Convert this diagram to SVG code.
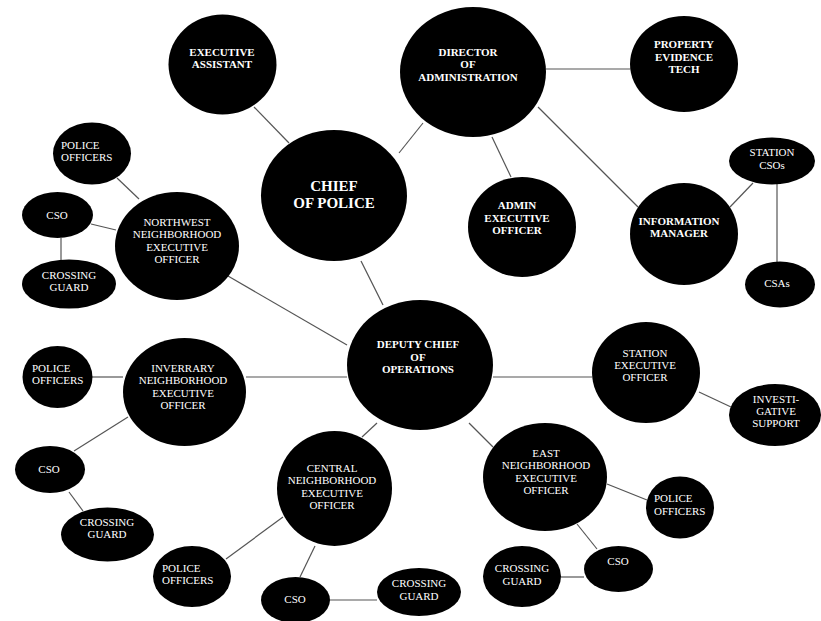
<svg xmlns="http://www.w3.org/2000/svg" width="821" height="621" viewBox="0 0 821 621">
<style>
.n{fill:#000}
.t{font-family:"Liberation Serif","Times New Roman",serif;font-size:11px;fill:#fff;text-anchor:middle}
.b{font-weight:bold}
.l{text-anchor:start}
.big{font-size:15px;font-weight:bold}
.c line{stroke:#555;stroke-width:1.2}
</style>
<rect width="821" height="621" fill="#fff"/>
<g class="c" id="connectors">
<line x1="254" y1="107" x2="289" y2="143"/>
<line x1="399" y1="153" x2="423" y2="123"/>
<line x1="546" y1="69" x2="630" y2="69"/>
<line x1="492" y1="137" x2="511" y2="177"/>
<line x1="538" y1="107" x2="638" y2="207"/>
<line x1="730" y1="207" x2="753" y2="183"/>
<line x1="777" y1="184" x2="777" y2="262"/>
<line x1="361" y1="261" x2="383" y2="305"/>
<line x1="117" y1="178" x2="139" y2="199"/>
<line x1="91" y1="224" x2="116" y2="230"/>
<line x1="61" y1="238" x2="61" y2="261"/>
<line x1="228" y1="276" x2="347" y2="345"/>
<line x1="92" y1="377" x2="123" y2="377"/>
<line x1="246" y1="377" x2="347" y2="377"/>
<line x1="128" y1="417" x2="74" y2="451"/>
<line x1="69" y1="492" x2="83" y2="511"/>
<line x1="377" y1="423" x2="362" y2="437"/>
<line x1="283" y1="517" x2="226" y2="559"/>
<line x1="315" y1="546" x2="300" y2="577"/>
<line x1="330" y1="600" x2="377" y2="600"/>
<line x1="493" y1="377" x2="592" y2="377"/>
<line x1="699" y1="392" x2="731" y2="407"/>
<line x1="469" y1="423" x2="493" y2="447"/>
<line x1="607" y1="484" x2="647" y2="500"/>
<line x1="577" y1="524" x2="597" y2="549"/>
<line x1="561" y1="577" x2="584" y2="577"/>
</g>
<g id="executive-assistant"><ellipse class="n" cx="222.5" cy="64.5" rx="54" ry="50"/><text class="t b"><tspan x="222" y="56">EXECUTIVE</tspan><tspan x="222" y="68">ASSISTANT</tspan></text></g>
<g id="chief-of-police"><ellipse class="n" cx="334" cy="195.5" rx="73" ry="65.5"/><text class="t big"><tspan x="334" y="191">CHIEF</tspan><tspan x="334" y="208">OF POLICE</tspan></text></g>
<g id="director-of-administration"><ellipse class="n" cx="473" cy="72" rx="73" ry="65"/><text class="t b"><tspan x="468" y="56">DIRECTOR</tspan><tspan x="468" y="68">OF</tspan><tspan x="468" y="81">ADMINISTRATION</tspan></text></g>
<g id="property-evidence-tech"><ellipse class="n" cx="684" cy="64" rx="54" ry="48"/><text class="t b"><tspan x="684" y="48">PROPERTY</tspan><tspan x="684" y="61">EVIDENCE</tspan><tspan x="684" y="73">TECH</tspan></text></g>
<g id="admin-executive-officer"><ellipse class="n" cx="522" cy="227" rx="54" ry="50"/><text class="t b"><tspan x="517" y="209">ADMIN</tspan><tspan x="517" y="222">EXECUTIVE</tspan><tspan x="517" y="234">OFFICER</tspan></text></g>
<g id="information-manager"><ellipse class="n" cx="684" cy="234" rx="54" ry="51"/><text class="t b"><tspan x="679" y="225">INFORMATION</tspan><tspan x="679" y="237">MANAGER</tspan></text></g>
<g id="station-csos"><ellipse class="n" cx="772" cy="161" rx="43" ry="23.5"/><text class="t"><tspan x="772" y="156">STATION</tspan><tspan x="772" y="169">CSOs</tspan></text></g>
<g id="csas"><ellipse class="n" cx="780" cy="284.5" rx="35" ry="23"/><text class="t"><tspan x="777" y="287">CSAs</tspan></text></g>
<g id="nw-police-officers"><ellipse class="n" cx="92" cy="153.5" rx="39" ry="31"/><text class="t l"><tspan x="61" y="149">POLICE</tspan><tspan x="61" y="161">OFFICERS</tspan></text></g>
<g id="nw-cso"><ellipse class="n" cx="57.5" cy="215" rx="35.5" ry="23"/><text class="t"><tspan x="57" y="219">CSO</tspan></text></g>
<g id="nw-exec"><ellipse class="n" cx="177" cy="246" rx="62" ry="54"/><text class="t"><tspan x="177" y="226">NORTHWEST</tspan><tspan x="177" y="238">NEIGHBORHOOD</tspan><tspan x="177" y="251">EXECUTIVE</tspan><tspan x="177" y="263">OFFICER</tspan></text></g>
<g id="nw-crossing-guard"><ellipse class="n" cx="69" cy="284" rx="47" ry="24.5"/><text class="t"><tspan x="69" y="279">CROSSING</tspan><tspan x="69" y="291">GUARD</tspan></text></g>
<g id="deputy-chief"><ellipse class="n" cx="420" cy="365" rx="73" ry="65"/><text class="t b"><tspan x="418" y="348">DEPUTY CHIEF</tspan><tspan x="418" y="361">OF</tspan><tspan x="418" y="373">OPERATIONS</tspan></text></g>
<g id="inv-police-officers"><ellipse class="n" cx="57.5" cy="377" rx="35" ry="31"/><text class="t l"><tspan x="32" y="372">POLICE</tspan><tspan x="32" y="384">OFFICERS</tspan></text></g>
<g id="inv-exec"><ellipse class="n" cx="184.5" cy="392" rx="61.5" ry="54"/><text class="t"><tspan x="183" y="372">INVERRARY</tspan><tspan x="183" y="384">NEIGHBORHOOD</tspan><tspan x="183" y="397">EXECUTIVE</tspan><tspan x="183" y="409">OFFICER</tspan></text></g>
<g id="inv-cso"><ellipse class="n" cx="50" cy="469.5" rx="35" ry="23.5"/><text class="t"><tspan x="49" y="473">CSO</tspan></text></g>
<g id="inv-crossing-guard"><ellipse class="n" cx="107.5" cy="534.5" rx="46.5" ry="27"/><text class="t"><tspan x="107" y="526">CROSSING</tspan><tspan x="107" y="538">GUARD</tspan></text></g>
<g id="central-exec"><ellipse class="n" cx="334.5" cy="488.5" rx="57.5" ry="57.5"/><text class="t"><tspan x="332" y="472">CENTRAL</tspan><tspan x="332" y="484">NEIGHBORHOOD</tspan><tspan x="332" y="497">EXECUTIVE</tspan><tspan x="332" y="509">OFFICER</tspan></text></g>
<g id="central-police-officers"><ellipse class="n" cx="192" cy="576.5" rx="39" ry="30.5"/><text class="t l"><tspan x="162" y="572">POLICE</tspan><tspan x="162" y="584">OFFICERS</tspan></text></g>
<g id="central-cso"><ellipse class="n" cx="295.5" cy="600" rx="34.5" ry="23"/><text class="t"><tspan x="295" y="603">CSO</tspan></text></g>
<g id="central-crossing-guard"><ellipse class="n" cx="419" cy="592" rx="42" ry="24"/><text class="t"><tspan x="419" y="587">CROSSING</tspan><tspan x="419" y="600">GUARD</tspan></text></g>
<g id="station-exec"><ellipse class="n" cx="646" cy="372.5" rx="54" ry="50.5"/><text class="t"><tspan x="645" y="357">STATION</tspan><tspan x="645" y="369">EXECUTIVE</tspan><tspan x="645" y="381">OFFICER</tspan></text></g>
<g id="investigative-support"><ellipse class="n" cx="775" cy="415" rx="46" ry="31"/><text class="t"><tspan x="776" y="403">INVESTI-</tspan><tspan x="776" y="415">GATIVE</tspan><tspan x="776" y="427">SUPPORT</tspan></text></g>
<g id="east-exec"><ellipse class="n" cx="545" cy="477" rx="62" ry="54"/><text class="t"><tspan x="546" y="457">EAST</tspan><tspan x="546" y="469">NEIGHBORHOOD</tspan><tspan x="546" y="482">EXECUTIVE</tspan><tspan x="546" y="494">OFFICER</tspan></text></g>
<g id="east-police-officers"><ellipse class="n" cx="680" cy="507.5" rx="34" ry="31"/><text class="t l"><tspan x="654" y="502">POLICE</tspan><tspan x="654" y="515">OFFICERS</tspan></text></g>
<g id="east-cso"><ellipse class="n" cx="618.5" cy="569" rx="34.5" ry="23"/><text class="t"><tspan x="618" y="565">CSO</tspan></text></g>
<g id="east-crossing-guard"><ellipse class="n" cx="522" cy="576.5" rx="39" ry="30.5"/><text class="t"><tspan x="522" y="572">CROSSING</tspan><tspan x="522" y="585">GUARD</tspan></text></g>
</svg>
